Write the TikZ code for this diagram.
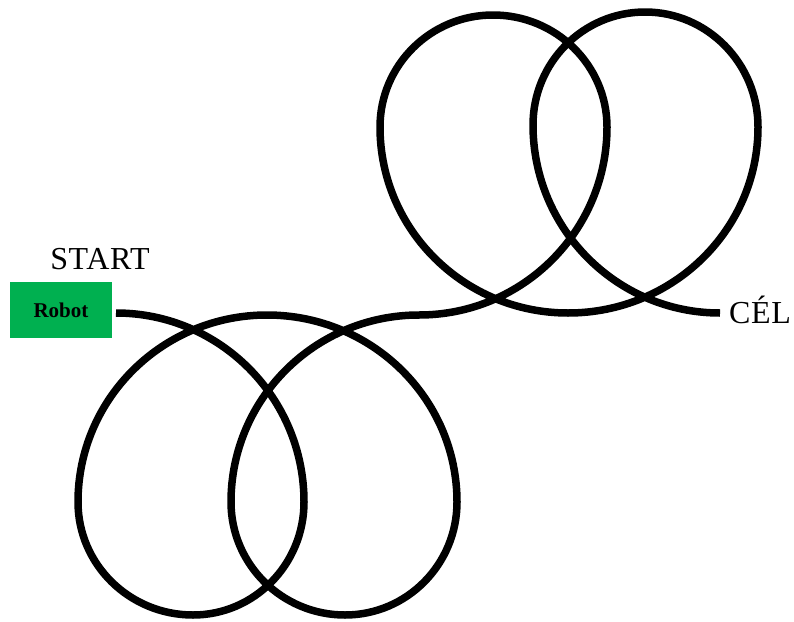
\documentclass[tikz,border=0pt]{standalone}
\usepackage{fontspec}
\setmainfont{Liberation Serif}
\definecolor{robotgreen}{HTML}{00B050}
\begin{document}
\begin{tikzpicture}[x=1pt,y=1pt,
  track/.style={line width=7.5pt, draw=black, line join=round},
  lbl/.style={font=\fontsize{32}{34}\selectfont\addfontfeature{LetterSpace=2}, inner sep=0pt},
  robotbox/.style={fill=robotgreen, draw=none, minimum width=102pt, minimum height=56pt, inner sep=0pt,
    font=\fontsize{21}{23}\selectfont\bfseries}]
\useasboundingbox (0,-621) rectangle (794,0);
\node[robotbox] (robot) at (61,-310) {Robot};
\node[lbl, anchor=base] (start) at (100,-269) {START};
\coordinate (s) at (116,-313);
\node[lbl, anchor=base west] (cel) at (729,-323) {CÉL};
\draw[track] (s)
  arc[start angle=90, end angle=0, x radius=188pt, y radius=189pt]
  arc[start angle=0, end angle=-90, x radius=111pt, y radius=113pt]
  arc[start angle=-90, end angle=-180, x radius=115pt, y radius=113pt]
  arc[start angle=180, end angle=90, x radius=189pt, y radius=187pt]
  arc[start angle=90, end angle=0, x radius=190pt, y radius=187pt]
  arc[start angle=0, end angle=-90, x radius=112pt, y radius=113pt]
  arc[start angle=-90, end angle=-180, x radius=114pt, y radius=113pt]
  arc[start angle=180, end angle=90, x radius=188pt, y radius=187pt]
  arc[start angle=-90, end angle=0, x radius=188pt, y radius=188pt]
  arc[start angle=0, end angle=90, x radius=114pt, y radius=112pt]
  arc[start angle=90, end angle=180, x radius=113pt, y radius=112pt]
  arc[start angle=180, end angle=270, x radius=188pt, y radius=186pt]
  arc[start angle=270, end angle=360, x radius=190pt, y radius=186pt]
  arc[start angle=0, end angle=90, x radius=113pt, y radius=115pt]
  arc[start angle=90, end angle=180, x radius=112pt, y radius=113pt]
  arc[start angle=180, end angle=270, x radius=187pt, y radius=188pt]
  coordinate (e);
\end{tikzpicture}
\end{document}
